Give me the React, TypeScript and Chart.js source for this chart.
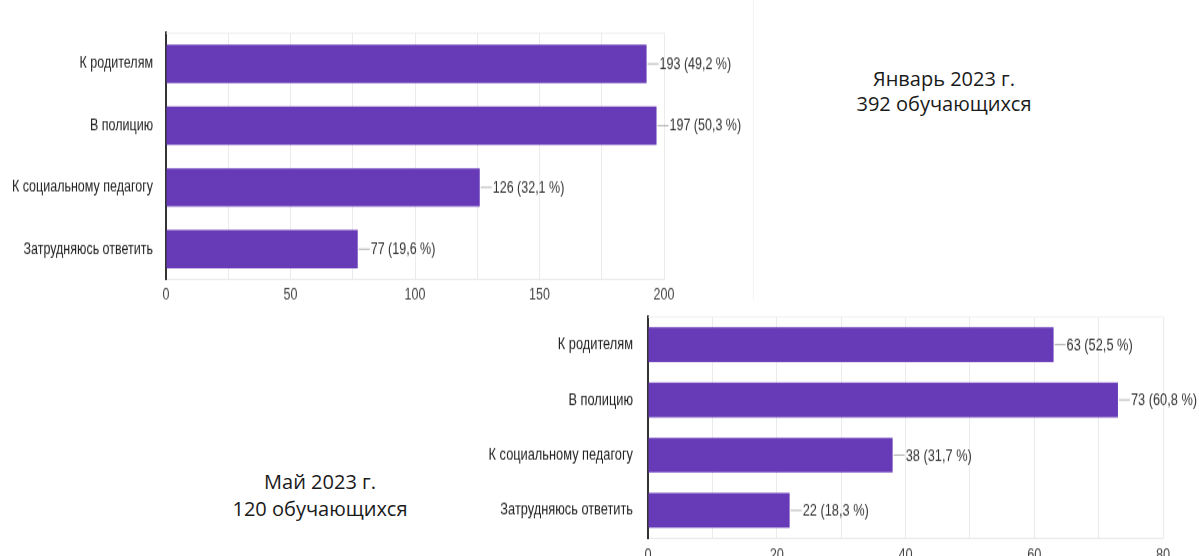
import React, { useEffect, useRef } from 'react';
import { Chart, registerables } from 'chart.js';

Chart.register(...registerables);

const categories = ['К родителям', 'В полицию', 'К социальному педагогу', 'Затрудняюсь ответить'];
const januaryCounts = [193, 197, 126, 77];
const januaryPercents = ['49,2', '50,3', '32,1', '19,6'];
const mayCounts = [63, 73, 38, 22];
const mayPercents = ['52,5', '60,8', '31,7', '18,3'];
const januaryTicks = [0, 50, 100, 150, 200];
const mayTicks = [0, 20, 40, 60, 80];
const januaryTitle = ['Январь 2023 г.', '392 обучающихся'];
const mayTitle = ['Май 2023 г.', '120 обучающихся'];

const BAR_COLOR = '#673ab7';
const FONT = "'Liberation Sans', Arial, sans-serif";

type PanelCfg = {
  counts: number[];
  percents: string[];
  ticks: number[];
  step: number;
  fontSize: number;
  padTop: number;
  padRight: number;
  yWidth: number;
  xHeight: number;
  yPad: number;
  xPad: number;
  barPct: number;
};

const labelPlugin = (percents: string[], fontSize: number) => ({
  id: 'valueLabels',
  afterDatasetsDraw(chart: any) {
    const ctx = chart.ctx;
    const meta = chart.getDatasetMeta(0);
    const data = chart.data.datasets[0].data as number[];
    ctx.save();
    ctx.font = `${fontSize}px ${FONT}`;
    ctx.textBaseline = 'middle';
    ctx.textAlign = 'left';
    meta.data.forEach((bar: any, i: number) => {
      const x = bar.x;
      const y = bar.y;
      ctx.strokeStyle = '#a0a0a0';
      ctx.lineWidth = 0.8;
      ctx.beginPath();
      ctx.moveTo(x + 1, y);
      ctx.lineTo(x + 12, y);
      ctx.stroke();
      ctx.fillStyle = '#333333';
      ctx.fillText(`${data[i]} (${percents[i]} %)`, x + 13, y + 0.5);
    });
    ctx.restore();
  },
});

const topLinePlugin = {
  id: 'topLine',
  beforeDatasetsDraw(chart: any) {
    const { ctx, chartArea } = chart;
    ctx.save();
    ctx.strokeStyle = '#ebebeb';
    ctx.lineWidth = 0.8;
    ctx.beginPath();
    ctx.moveTo(chartArea.left, chartArea.top);
    ctx.lineTo(chartArea.right, chartArea.top);
    ctx.stroke();
    ctx.restore();
  },
};

// The reference image is stretched vertically; the canvas is drawn shorter and stretched by CSS.
function BarPanel({ cfg, width, cssHeight, canvasHeight, style }: { cfg: PanelCfg; width: number; cssHeight: number; canvasHeight: number; style: React.CSSProperties }) {
  const ref = useRef<HTMLCanvasElement | null>(null);
  useEffect(() => {
    if (!ref.current) return;
    const k = cssHeight / canvasHeight;
    const max = cfg.ticks[cfg.ticks.length - 1];
    const chart = new Chart(ref.current, {
      type: 'bar',
      data: {
        labels: categories,
        datasets: [
          {
            data: cfg.counts,
            backgroundColor: BAR_COLOR,
            borderWidth: 0,
            categoryPercentage: 1,
            barPercentage: cfg.barPct,
          },
        ],
      },
      options: {
        indexAxis: 'y',
        responsive: false,
        animation: false,
        devicePixelRatio: 1,
        layout: { padding: { top: cfg.padTop / k, right: cfg.padRight, left: 0, bottom: 0 } },
        plugins: { legend: { display: false }, tooltip: { enabled: false }, title: { display: false } },
        scales: {
          x: {
            min: 0,
            max,
            ticks: {
              stepSize: cfg.step,
              autoSkip: false,
              maxRotation: 0,
              padding: cfg.xPad,
              color: '#444444',
              font: { family: FONT, size: cfg.fontSize },
              callback: (v: any) => (cfg.ticks.includes(Number(v)) ? String(v) : ''),
            },
            grid: {
              drawTicks: false,
              color: (c: any) => (c.tick && c.tick.value === 0 ? 'rgba(0,0,0,0)' : '#ebebeb'),
            },
            border: { color: '#e6e6e6', width: 0.8 },
            afterFit: (s: any) => {
              s.height = cfg.xHeight / k;
              s.paddingLeft = 0;
              s.paddingRight = 0;
            },
          },
          y: {
            ticks: {
              padding: cfg.yPad,
              color: '#222222',
              font: { family: FONT, size: cfg.fontSize },
            },
            grid: { display: false, drawTicks: false },
            border: { color: '#333333', width: 2 },
            afterFit: (s: any) => {
              s.width = cfg.yWidth;
              s.paddingTop = 0;
              s.paddingBottom = 0;
            },
          },
        },
      } as any,
      plugins: [topLinePlugin, labelPlugin(cfg.percents, cfg.fontSize)],
    });
    return () => chart.destroy();
  }, []);
  return (
    <canvas
      ref={ref}
      width={width}
      height={canvasHeight}
      style={{ position: 'absolute', width: width + 'px', height: cssHeight + 'px', ...style }}
    />
  );
}

const titleStyle: React.CSSProperties = {
  position: 'absolute',
  width: 300,
  textAlign: 'center',
  fontFamily: "'Open Sans', 'Noto Sans', sans-serif",
  fontSize: 20,
  color: '#1a1a1a',
};

export default function App() {
  const janCfg: PanelCfg = {
    counts: januaryCounts,
    percents: januaryPercents,
    ticks: januaryTicks,
    step: 25,
    fontSize: 12.5,
    padTop: 33,
    padRight: 96,
    yWidth: 166,
    xHeight: 30,
    yPad: 13,
    xPad: 4,
    barPct: 0.62,
  };
  const mayCfg: PanelCfg = {
    counts: mayCounts,
    percents: mayPercents,
    ticks: mayTicks,
    step: 10,
    fontSize: 12.8,
    padTop: 7,
    padRight: 36,
    yWidth: 168,
    xHeight: 18,
    yPad: 15,
    xPad: 5.5,
    barPct: 0.63,
  };
  return (
    <div style={{ position: 'absolute', left: 0, top: 0, width: 1199, height: 556, background: '#ffffff', overflow: 'hidden' }}>
      <div style={{ position: 'absolute', left: 753, top: 0, width: 1, height: 300, background: '#f3f3f3' }} />
      <BarPanel cfg={janCfg} width={760} cssHeight={310} canvasHeight={238} style={{ left: 0, top: 0 }} />
      <BarPanel cfg={mayCfg} width={719} cssHeight={246} canvasHeight={189} style={{ left: 480, top: 310 }} />
      <div style={{ ...titleStyle, left: 794, top: 66, lineHeight: '25px' }}>
        {januaryTitle[0]}
        <br />
        {januaryTitle[1]}
      </div>
      <div style={{ ...titleStyle, left: 170, top: 468, lineHeight: '27px' }}>
        {mayTitle[0]}
        <br />
        {mayTitle[1]}
      </div>
    </div>
  );
}
